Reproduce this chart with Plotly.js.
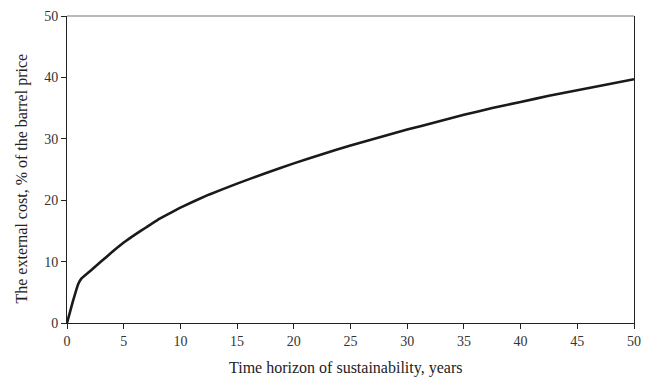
<!DOCTYPE html>
<html>
<head>
<meta charset="utf-8">
<script src="https://cdn.plot.ly/plotly-3.0.1.min.js"></script>
<style>html,body{margin:0;padding:0;background:#fff;}#chart{width:652px;height:379px;}</style>
</head>
<body>
<div id="chart"></div>
<script>
const years = [0, 0.5, 1, 1.25, 2, 2.5, 3, 4, 5, 6, 7, 8, 9, 10, 12.5, 15, 17.5, 20, 22.5, 25, 27.5, 30, 32.5, 35, 37.5, 40, 42.5, 45, 47.5, 50];
const externalCost = [0, 3.4, 6.4, 7.2, 8.4, 9.2, 10.0, 11.6, 13.1, 14.4, 15.6, 16.8, 17.8, 18.8, 20.9, 22.7, 24.4, 26.0, 27.5, 28.9, 30.2, 31.5, 32.7, 33.9, 35.0, 36.0, 37.0, 37.9, 38.8, 39.7];
const xTicks = [0, 5, 10, 15, 20, 25, 30, 35, 40, 45, 50];
const yTicks = [0, 10, 20, 30, 40, 50];
const xTitle = 'Time horizon of sustainability, years';
const yTitle = 'The external cost, % of the barrel price';

const fam = '"Liberation Serif", "Times New Roman", serif';
const tickFont = {family: fam, size: 14, color: '#333'};
const titleFont = {family: fam, size: 16, color: '#222'};

Plotly.newPlot('chart', [{
  x: years, y: externalCost, type: 'scatter', mode: 'lines',
  line: {color: '#1a1a1a', width: 2.6, shape: 'spline', smoothing: 0.3},
  hoverinfo: 'skip'
}], {
  width: 652, height: 379,
  margin: {l: 66.5, r: 18, t: 15.7, b: 55.7},
  paper_bgcolor: '#fff', plot_bgcolor: '#fff',
  showlegend: false,
  font: tickFont,
  xaxis: {
    range: [0, 50], tickvals: xTicks, ticktext: xTicks.map(String),
    showgrid: false, zeroline: false, showline: true, mirror: false,
    linecolor: '#222', linewidth: 1, ticks: 'outside', ticklen: 5, tickcolor: '#222',
    tickfont: tickFont
  },
  yaxis: {
    range: [0, 50], tickvals: yTicks, ticktext: yTicks.map(String),
    showgrid: false, zeroline: false, showline: true, mirror: true,
    linecolor: '#222', linewidth: 1, ticks: 'outside', ticklen: 5, tickcolor: '#222',
    tickfont: tickFont
  },
  shapes: [{type: 'line', xref: 'paper', yref: 'paper', x0: 0, x1: 1, y0: 1, y1: 1,
            line: {color: '#777', width: 1.2}}],
  annotations: [
    {text: xTitle, xref: 'paper', yref: 'paper', x: 0.4907, y: -0.147,
     xanchor: 'center', yanchor: 'middle', showarrow: false, font: titleFont},
    {text: yTitle, xref: 'paper', yref: 'paper', x: -0.0802, y: 0.469, textangle: -90,
     xanchor: 'center', yanchor: 'middle', showarrow: false, font: titleFont}
  ]
}, {staticPlot: true, displayModeBar: false});
</script>
</body>
</html>
